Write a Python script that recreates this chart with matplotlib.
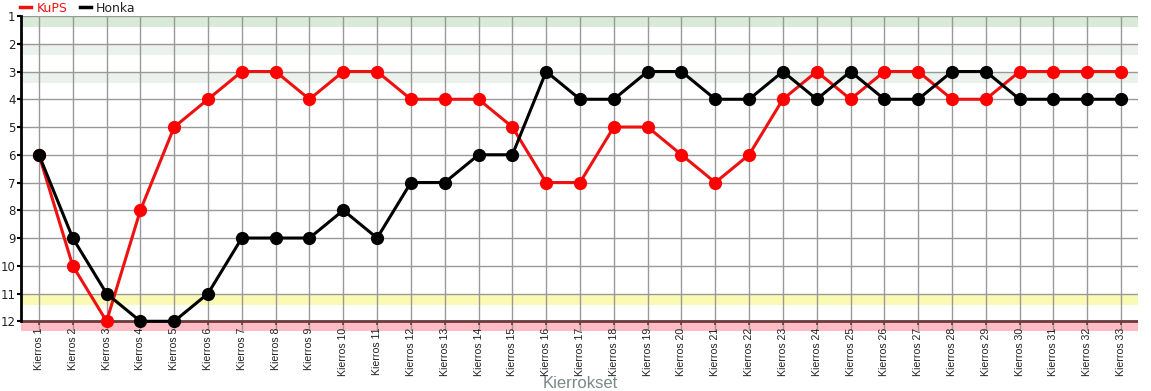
import matplotlib
matplotlib.use("Agg")
import matplotlib.pyplot as plt

# sijoitukset kierroksittain
rounds = ["Kierros %d" % i for i in range(1, 34)]
kups = [6, 10, 12, 8, 5, 4, 3, 3, 4, 3, 3, 4, 4, 4, 5, 7, 7, 5, 5, 6, 7, 6, 4, 3, 4, 3, 3, 4, 4, 3, 3, 3, 3]
honka = [6, 9, 11, 12, 12, 11, 9, 9, 9, 8, 9, 7, 7, 6, 6, 3, 4, 4, 3, 3, 4, 4, 3, 4, 3, 4, 4, 3, 3, 4, 4, 4, 4]
ranks = list(range(1, 13))

fig = plt.figure(figsize=(11.51, 3.91), dpi=100)
ax = fig.add_axes([21 / 1151, 1 - 331 / 391, (1138 - 21) / 1151, (331 - 16) / 391])

x = list(range(1, len(rounds) + 1))

for s in ["top", "right"]:
    ax.spines[s].set_visible(False)
ax.spines["left"].set_bounds(1, 12)
ax.spines["left"].set_linewidth(2)
ax.spines["bottom"].set_position(("data", 12))
ax.spines["bottom"].set_visible(False)

ax.set_xlim(0.47, 33.5)
ax.set_ylim(12.35, 1)

# taustavyohykkeet
ax.axhspan(1, 1.4, color="#d9ead9", zorder=0, lw=0)
ax.axhspan(2, 2.4, color="#ebf1eb", zorder=0, lw=0)
ax.axhspan(3, 3.4, color="#ebf1eb", zorder=0, lw=0)
ax.axhspan(11, 11.4, color="#fafab4", zorder=0, lw=0)
ax.axhspan(12, 12.35, color="#ffbcc4", zorder=0, lw=0)

for r in ranks:
    ax.axhline(r, color="#999999", lw=1, zorder=1)
for xi in x:
    ax.axvline(xi, color="#999999", lw=1, zorder=1)
ax.axhline(12, color="#6b3b3b", lw=2, zorder=2)

ax.plot(x, kups, color="#ee1111", lw=2.2, marker="o", ms=8.5,
        markerfacecolor="#ff0000", markeredgecolor="#ff0000", label="KuPS", zorder=3)
ax.plot(x, honka, color="black", lw=2.2, marker="o", ms=8.5,
        markerfacecolor="black", markeredgecolor="black", label="Honka", zorder=4)

ax.set_yticks(ranks)
ax.set_yticklabels([str(r) for r in ranks], fontsize=8.5, color="#222222")
ax.set_xticks(x)
ax.set_xticklabels(rounds, rotation=90, fontsize=7.6, color="#222222",
                   family="Liberation Sans")

ax.tick_params(axis="y", length=3, width=1.5, pad=1)
ax.tick_params(axis="x", length=3, width=1.2, color="#6b3b3b", pad=1.5)

fig.text(580 / 1151, 1 - 383 / 391, "Kierrokset", fontsize=12, color="#7a8888",
         family="Liberation Sans", ha="center", va="center")

leg = ax.legend(loc="lower left", bbox_to_anchor=(20 / 1151, 0.962), bbox_transform=fig.transFigure,
                ncol=2, frameon=False, fontsize=9, handlelength=0.9, handletextpad=0.4,
                columnspacing=1.0, borderaxespad=0, borderpad=0)
leg.get_texts()[0].set_color("#ee1111")
leg.get_texts()[1].set_color("#222222")
for line in leg.get_lines():
    line.set_marker("")
    line.set_linewidth(2.5)

fig.savefig("out.png", dpi=100)
